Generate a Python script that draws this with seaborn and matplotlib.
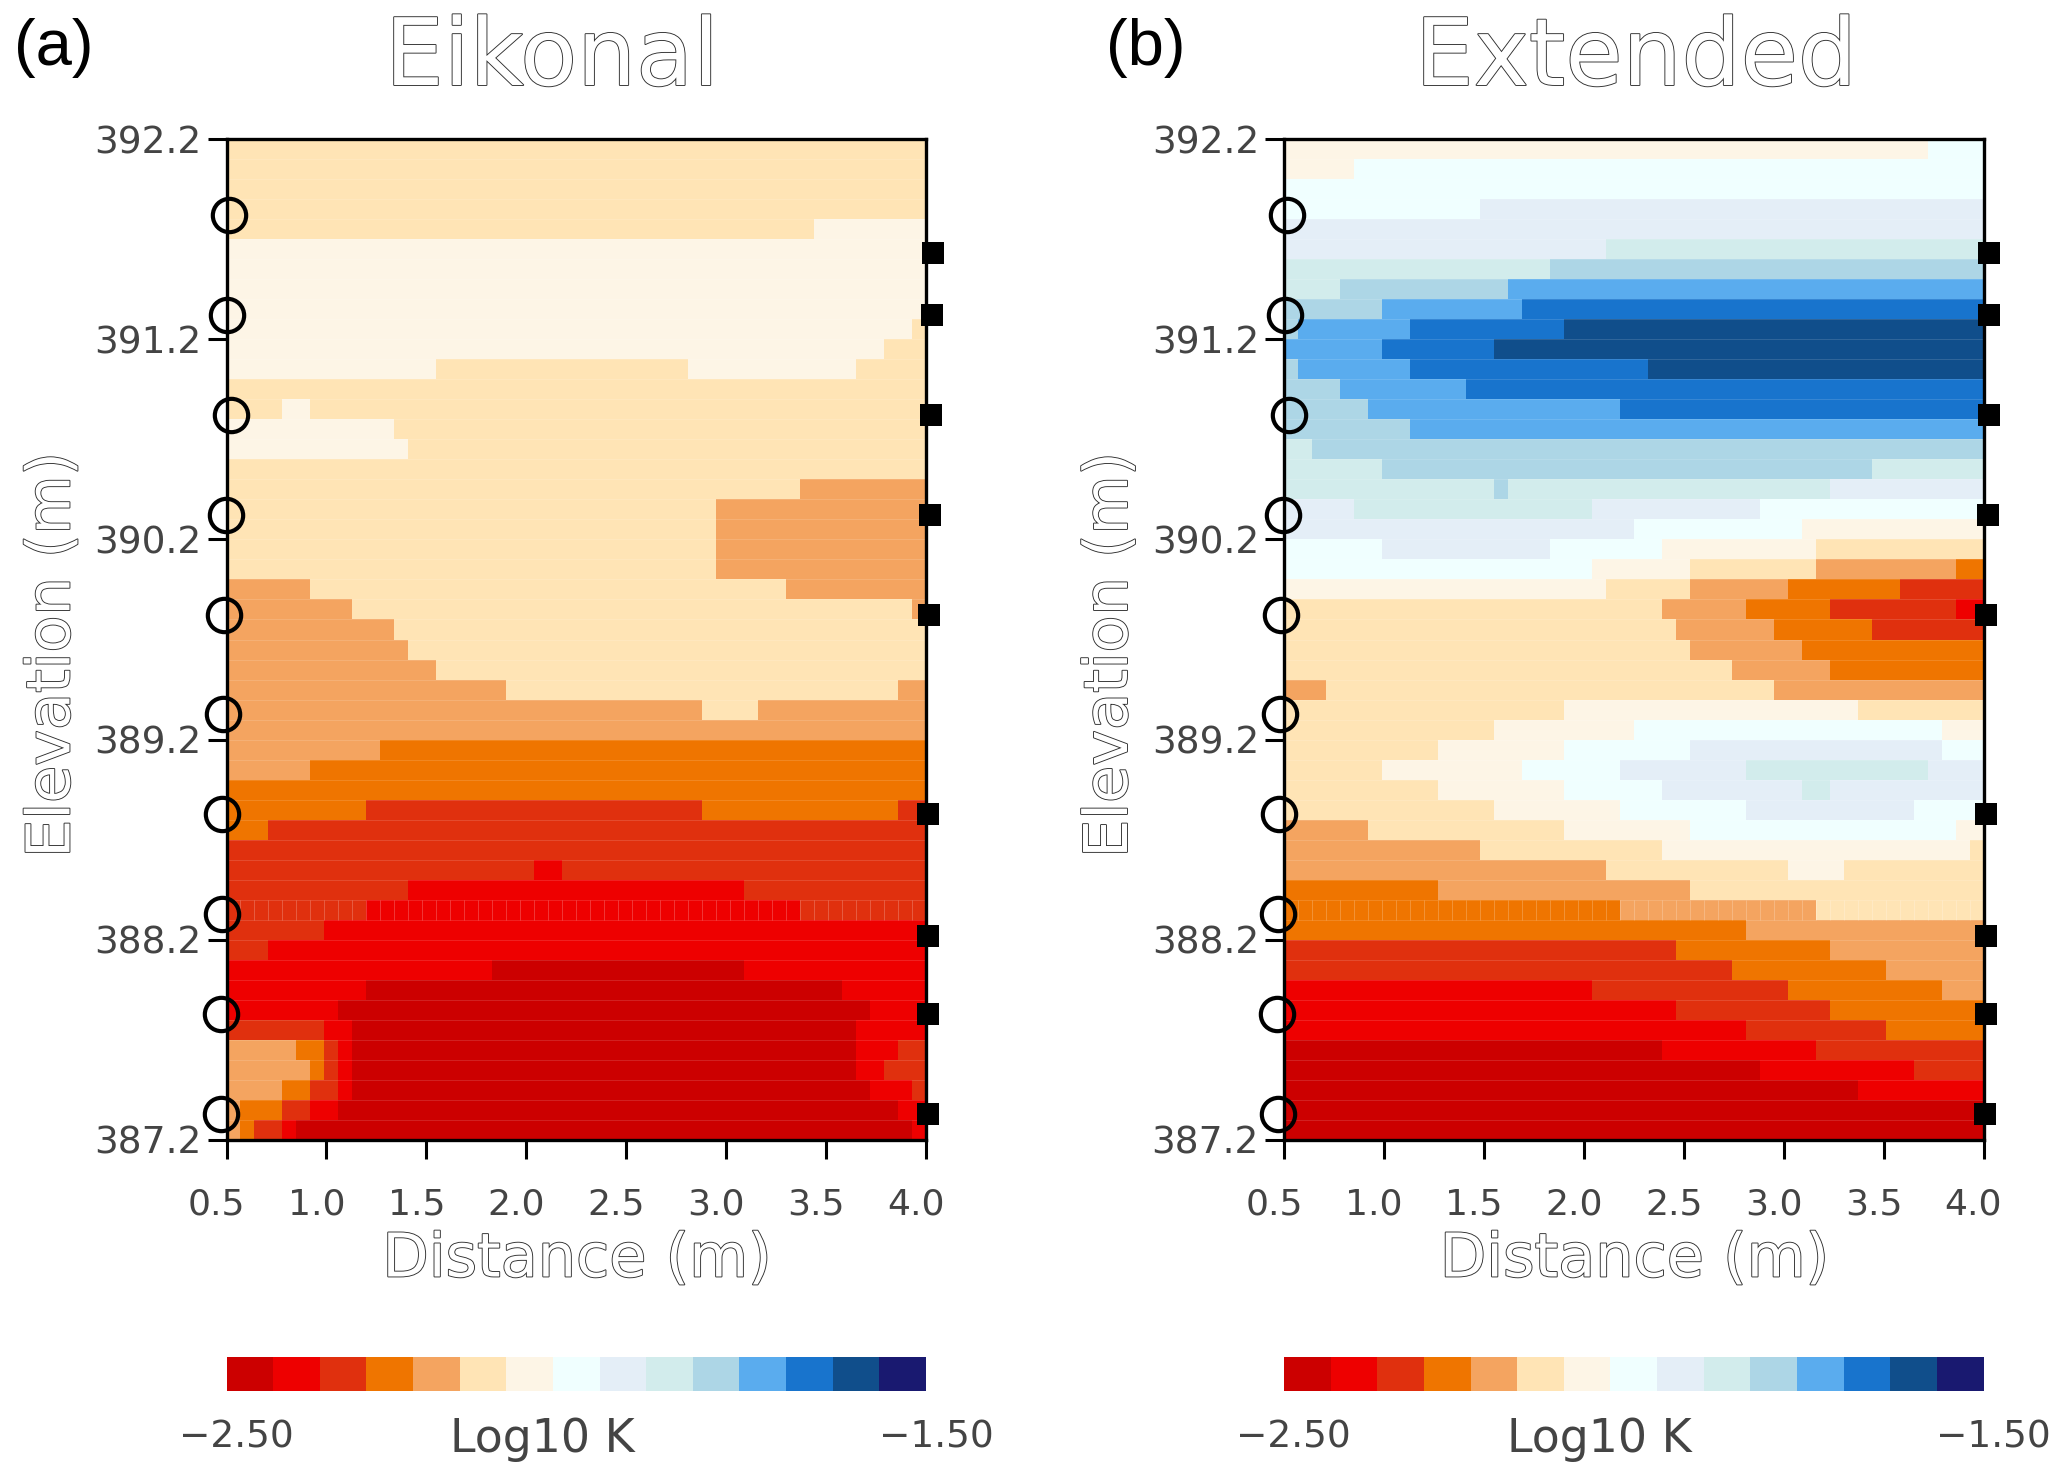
import numpy as np
import matplotlib
matplotlib.use('Agg')
import matplotlib.pyplot as plt
import matplotlib.patheffects as pe
from matplotlib.colors import ListedColormap
from matplotlib.transforms import ScaledTranslation
import seaborn as sns

W, H = 2067, 1479

# colour classes of the bar, low to high
class_colors = ['#CC0000', '#EE0000', '#E0300E', '#EF7500', '#F4A460', '#FFE4B5', '#FDF5E6', '#F0FFFF',
                '#E4EEF7', '#D2ECEC', '#ADD6E6', '#5AACEE', '#1874CD', '#104E8B', '#191970']

# each row, top to bottom: (class, last column) runs, 50 columns of 0.07 m
eikonal_runs = [
    [(5, 50)], [(5, 50)], [(5, 50)], [(5, 50)],
    [(5, 42), (6, 50)],
    [(6, 50)], [(6, 50)], [(6, 50)], [(6, 50)],
    [(6, 49), (5, 50)],
    [(6, 47), (5, 50)],
    [(6, 15), (5, 33), (6, 45), (5, 50)],
    [(5, 50)],
    [(5, 4), (6, 6), (5, 50)],
    [(6, 12), (5, 50)],
    [(6, 13), (5, 50)],
    [(5, 50)],
    [(5, 41), (4, 50)],
    [(5, 35), (4, 50)], [(5, 35), (4, 50)], [(5, 35), (4, 50)], [(5, 35), (4, 50)],
    [(4, 6), (5, 40), (4, 50)],
    [(4, 9), (5, 49), (4, 50)],
    [(4, 12), (5, 50)],
    [(4, 13), (5, 50)],
    [(4, 15), (5, 50)],
    [(4, 20), (5, 48), (4, 50)],
    [(4, 34), (5, 38), (4, 50)],
    [(4, 50)],
    [(4, 11), (3, 50)],
    [(4, 6), (3, 50)],
    [(3, 50)],
    [(3, 10), (2, 34), (3, 48), (2, 50)],
    [(3, 3), (2, 50)],
    [(2, 50)],
    [(2, 22), (1, 24), (2, 50)],
    [(2, 13), (1, 37), (2, 50)],
    [(2, 10), (1, 41), (2, 50)],
    [(2, 7), (1, 50)],
    [(2, 3), (1, 50)],
    [(1, 19), (0, 37), (1, 50)],
    [(1, 10), (0, 44), (1, 50)],
    [(1, 8), (0, 46), (1, 50)],
    [(2, 7), (1, 9), (0, 45), (1, 50)],
    [(4, 5), (3, 7), (2, 8), (1, 9), (0, 45), (1, 48), (2, 50)],
    [(4, 6), (3, 7), (2, 8), (1, 9), (0, 45), (1, 47), (2, 50)],
    [(4, 4), (3, 6), (2, 8), (1, 9), (0, 46), (1, 49), (2, 50)],
    [(4, 1), (3, 4), (2, 6), (1, 8), (0, 48), (1, 50)],
    [(4, 1), (3, 2), (2, 4), (1, 5), (0, 49), (1, 50)],
]

extended_runs = [
    [(6, 46), (7, 50)],
    [(6, 5), (7, 50)],
    [(7, 50)],
    [(7, 14), (8, 50)],
    [(8, 50)],
    [(8, 23), (9, 50)],
    [(9, 19), (10, 50)],
    [(9, 4), (10, 16), (11, 50)],
    [(10, 7), (11, 17), (12, 50)],
    [(10, 1), (11, 9), (12, 20), (13, 50)],
    [(11, 7), (12, 15), (13, 50)],
    [(10, 1), (11, 9), (12, 26), (13, 50)],
    [(10, 4), (11, 13), (12, 50)],
    [(10, 6), (11, 24), (12, 50)],
    [(10, 9), (11, 50)],
    [(9, 2), (10, 50)],
    [(9, 7), (10, 42), (9, 50)],
    [(9, 15), (10, 16), (9, 39), (8, 50)],
    [(8, 5), (9, 22), (8, 34), (7, 50)],
    [(8, 25), (7, 37), (6, 50)],
    [(7, 7), (8, 19), (7, 27), (6, 38), (5, 50)],
    [(7, 22), (6, 29), (5, 38), (4, 48), (3, 50)],
    [(6, 23), (5, 29), (4, 36), (3, 44), (2, 50)],
    [(5, 27), (4, 33), (3, 39), (2, 48), (1, 50)],
    [(5, 28), (4, 35), (3, 42), (2, 50)],
    [(5, 29), (4, 37), (3, 50)],
    [(5, 32), (4, 39), (3, 50)],
    [(4, 3), (5, 35), (4, 50)],
    [(5, 20), (6, 41), (5, 50)],
    [(5, 15), (6, 25), (7, 47), (6, 50)],
    [(5, 11), (6, 20), (7, 29), (8, 47), (7, 50)],
    [(5, 7), (6, 17), (7, 24), (8, 33), (9, 46), (8, 50)],
    [(5, 11), (6, 20), (7, 27), (8, 37), (9, 39), (8, 50)],
    [(5, 15), (6, 24), (7, 33), (8, 45), (7, 50)],
    [(4, 6), (5, 20), (6, 29), (7, 48), (6, 50)],
    [(4, 14), (5, 27), (6, 49), (5, 50)],
    [(4, 23), (5, 36), (6, 40), (5, 50)],
    [(3, 11), (4, 29), (5, 50)],
    [(3, 24), (4, 38), (5, 50)],
    [(3, 33), (4, 50)],
    [(2, 28), (3, 39), (4, 50)],
    [(2, 32), (3, 43), (4, 50)],
    [(1, 22), (2, 36), (3, 47), (4, 50)],
    [(1, 28), (2, 39), (3, 50)],
    [(1, 33), (2, 43), (3, 50)],
    [(0, 27), (1, 38), (2, 50)],
    [(0, 34), (1, 45), (2, 50)],
    [(0, 41), (1, 50)],
    [(0, 50)],
    [(0, 50)],
]

x_ticks = [0.5, 1.0, 1.5, 2.0, 2.5, 3.0, 3.5, 4.0]
y_ticks = [392.2, 391.2, 390.2, 389.2, 388.2, 387.2]

circle_elev = [391.82, 391.32, 390.82, 390.32, 389.82, 389.33, 388.83, 388.33, 387.83, 387.33]
eik_circle_dist = [0.512, 0.505, 0.524, 0.495, 0.488, 0.48, 0.476, 0.476, 0.47, 0.47]
ext_circle_dist = [0.515, 0.505, 0.524, 0.495, 0.485, 0.478, 0.476, 0.471, 0.466, 0.471]

square_elev = [391.63, 391.32, 390.82, 390.32, 389.82, 388.83, 388.22, 387.83, 387.33]
eik_square_dist = [4.034, 4.03, 4.027, 4.022, 4.015, 4.012, 4.012, 4.012, 4.01]
ext_square_dist = [4.03, 4.03, 4.027, 4.022, 4.015, 4.012, 4.012, 4.012, 4.01]


def expand_runs(runs):
    grid = np.zeros((len(runs), 50))
    for i, row in enumerate(runs):
        start = 0
        for cls, end in row:
            grid[i, start:end] = cls
            start = end
    return grid


def dist_to_col(d):
    return (np.asarray(d) - 0.5) / 0.07


def elev_to_row(e):
    return (392.2 - np.asarray(e)) / 0.1


def ftext(x, y, s, **kw):
    return fig.text(x / W, 1 - y / H, s, ha='center', va='center', **kw)


def hollow():
    return [pe.Stroke(linewidth=1.3, foreground='#2e2e2e'), pe.Normal()]


def draw_panel(left, runs, title, letter, letter_x, title_x, circle_dist, square_dist):
    ax = fig.add_axes([left / W, 1 - 1140 / H, 699.5 / W, 1001 / H])
    sns.heatmap(expand_runs(runs), ax=ax, cmap=cmap, vmin=0, vmax=15, cbar=False,
                xticklabels=False, yticklabels=False)
    # hairlines the original shows between cells
    ax.hlines(np.arange(1, 50), 0, 50, color='white', lw=0.6, alpha=0.16)
    ax.vlines(np.arange(1, 50), 38, 39, color='white', lw=0.6, alpha=0.25)

    ax.set_xlim(0, 50)
    ax.set_ylim(50, 0)
    for s in ax.spines.values():
        s.set_visible(True)
        s.set_color('black')
        s.set_linewidth(2.4)
    ax.set_xticks(dist_to_col(x_ticks))
    ax.set_xticklabels(['%.1f' % v for v in x_ticks], rotation=0)
    ax.set_yticks(elev_to_row(y_ticks))
    ax.set_yticklabels(['%.1f' % v for v in y_ticks], rotation=0)
    ax.tick_params(axis='x', length=14, width=2.2, color='black', labelsize=26, labelcolor='#444444', pad=20,
                   bottom=True)
    ax.tick_params(axis='y', length=14, width=2.2, color='black', labelsize=27, labelcolor='#444444', pad=4,
                   left=True)
    shift = ScaledTranslation(-10 / 100, 0, fig.dpi_scale_trans)
    for lab in ax.get_xticklabels():
        lab.set_transform(lab.get_transform() + shift)

    ax.plot(dist_to_col(circle_dist), elev_to_row(circle_elev), 'o', ms=24, mfc='none', mec='black',
            mew=3.0, clip_on=False, zorder=5)
    ax.plot(dist_to_col(square_dist), elev_to_row(square_elev), 's', ms=16, mfc='black', mec='black',
            mew=0, clip_on=False, zorder=5)

    ftext(title_x, 59, title, fontsize=67, color='white', path_effects=hollow())
    ftext(letter_x, 48, letter, fontsize=47, color='black', family='Liberation Sans')
    ftext(left + 350.5, 1260, 'Distance (m)', fontsize=43.5, color='white', path_effects=hollow())
    ftext(left - 173.5, 655, 'Elevation (m)', fontsize=43.5, color='white', rotation=90, path_effects=hollow())

    cax = fig.add_axes([left / W, 1 - 1391 / H, 699.5 / W, 34 / H])
    sns.heatmap(np.arange(15).reshape(1, -1), ax=cax, cmap=cmap, vmin=0, vmax=15, cbar=False,
                xticklabels=False, yticklabels=False)
    ftext(left + 9.5, 1437, '\u22122.50', fontsize=27, color='#444444')
    ftext(left + 315.5, 1439, 'Log10 K', fontsize=33, color='#444444')
    ftext(left + 709.5, 1437, '\u22121.50', fontsize=27, color='#444444')


sns.set_theme(style='white')
plt.rcParams['font.family'] = ['DejaVu Sans']
cmap = ListedColormap(class_colors)

fig = plt.figure(figsize=(W / 100, H / 100), dpi=100)
draw_panel(226.5, eikonal_runs, 'Eikonal', '(a)', 54, 552, eik_circle_dist, eik_square_dist)
draw_panel(1284, extended_runs, 'Extended', '(b)', 1146, 1636, ext_circle_dist, ext_square_dist)

fig.savefig('out.png', dpi=100)
